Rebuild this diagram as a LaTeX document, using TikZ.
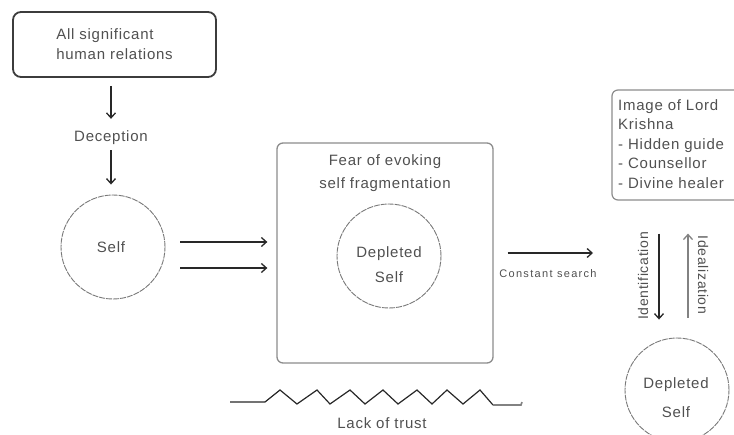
\documentclass[tikz,border=0pt]{standalone}
\usepackage{fontspec}
\setmainfont{Liberation Sans}[LetterSpace=5]
\usetikzlibrary{arrows.meta}
\definecolor{txtc}{RGB}{80,80,80}
\definecolor{linec}{RGB}{40,40,40}
\definecolor{boxdark}{RGB}{60,60,60}
\definecolor{midc}{RGB}{140,140,140}
\definecolor{circc}{RGB}{120,120,120}
\definecolor{lightarr}{RGB}{130,130,130}
\begin{document}
\begin{tikzpicture}[x=1pt,y=-1pt,
  every node/.style={text=txtc, inner sep=0pt},
  fs/.style={font=\fontsize{15}{20}\selectfont},
  arr/.style={draw=linec, line width=1.4pt, -{Straight Barb[length=5pt,width=9pt,line width=1.3pt]}},
  arrg/.style={arr, draw=lightarr, line width=2pt},
  circ/.style={circle, draw=circc, line width=0.9pt, dash pattern=on 6pt off 1pt, minimum size=104pt},
  ]
\useasboundingbox (0,0) rectangle (734,434);
\clip (0,0) rectangle (734,434);

% top box
\node[draw=boxdark, line width=1.8pt, rounded corners=8pt, minimum width=203pt, minimum height=65pt,
      align=left, fs] (top) at (114.5,44.5) {All significant\\human relations};
\node[fs] (dec) at (111,138) {Deception};
\node[circ] (self) at (113,247) {};
\node[fs] (selft) at (111,247) {Self};

\draw[arr, shorten <=8pt, shorten >=12pt] (top.south -| dec.north) -- (dec.north);
\draw[arr, shorten <=5pt, shorten >=10pt] (dec.south) -- (dec.south |- self.north);

% middle box
\node[draw=midc, line width=1.3pt, rounded corners=6pt, minimum width=216pt, minimum height=220pt] (mid) at (385,253) {};
\node[font=\fontsize{15}{23}\selectfont, align=center] (fear) at (385,173) {Fear of evoking\\self fragmentation};
\node[circ] (dep1) at (389,256) {};
\node[font=\fontsize{15}{25}\selectfont, align=center] (dep1t) at (389,264.5) {Depleted\\Self};

\draw[arr] ([xshift=15pt,yshift=5pt]self.east) -- ([xshift=-9pt,yshift=11pt]mid.west);
\draw[arr] ([xshift=15pt,yshift=-21pt]self.east) -- ([xshift=-9pt,yshift=-15pt]mid.west);

% constant search
\coordinate (cs) at (593,253);
\draw[arr] ([xshift=14pt]mid.east) -- (cs);
\node[font=\fontsize{11}{13}\selectfont\addfontfeatures{LetterSpace=12}] (csl) at (548,274) {Constant search};

% Krishna box
\node[draw=midc, line width=1.2pt, rounded corners=6pt, minimum width=136pt, minimum height=110pt] (kb) at (680,145) {};
\node[font=\fontsize{15}{19.5}\selectfont, align=left, anchor=west] (kbt) at (618,144)
  {Image of Lord\\Krishna\\- Hidden guide\\- Counsellor\\- Divine healer};

% bottom circle
\node[circ] (dep2) at (677,390) {};
\node[font=\fontsize{15}{29}\selectfont, align=center] (dep2t) at (676,397.5) {Depleted\\Self};

\draw[arr, shorten <=33pt, shorten >=18pt] ([xshift=-21pt]kb.south) -- ([xshift=-18pt]dep2.north);
\draw[arrg, shorten <=20pt, shorten >=33pt] ([xshift=11pt]dep2.north) -- ([xshift=8pt]kb.south);
\node[font=\fontsize{14}{16}\selectfont, rotate=90] (idl) at (643,276) {Identification};
\node[font=\fontsize{14}{16}\selectfont, rotate=-90] (ial) at (703,275) {Idealization};

% lack of trust
\draw[linec, line width=1.2pt, line join=miter] (230,402) -- (265,402) -- (280,390) -- (297,404) -- (317,390) -- (330,404)
  -- (350,390) -- (365,404) -- (383,390) -- (398,404) -- (417,390) -- (432,404) -- (447,390) -- (463,404)
  -- (480,390) -- (493,405);
\draw[lightarr, line width=1.6pt] (493,405) -- (521,405) -- (522,402);
\node[fs] (lack) at (382,423) {Lack of trust};
\end{tikzpicture}
\end{document}
